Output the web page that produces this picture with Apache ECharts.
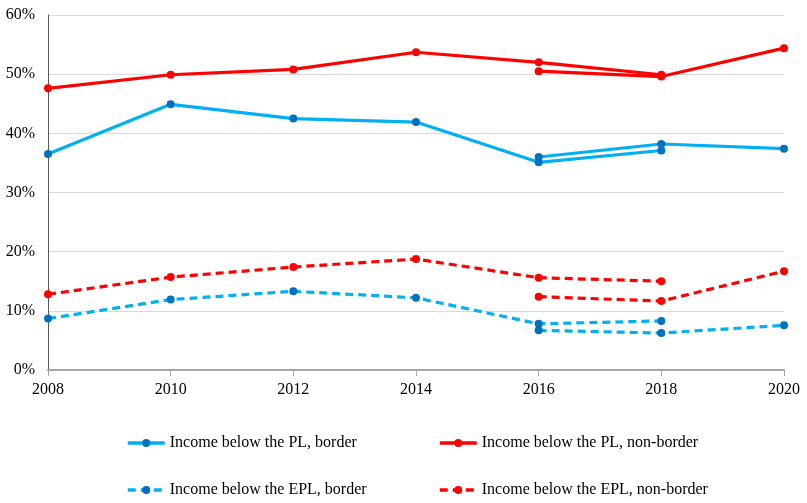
<!DOCTYPE html>
<html>
<head>
<meta charset="utf-8">
<script src="https://cdn.jsdelivr.net/npm/echarts@6/dist/echarts.min.js"></script>
<style>html,body{margin:0;padding:0;background:#fff}#c{width:807px;height:503px}</style>
</head>
<body>
<div id="c"></div>
<script>
var years = ['2008','2010','2012','2014','2016','2018','2020'];
var plBorderOld    = [36.5, 44.9, 42.5, 41.9, 35.1, 37.1, null];
var plBorderNew    = [null, null, null, null, 36.0, 38.2, 37.4];
var plNonBorderOld = [47.6, 49.9, 50.8, 53.7, 52.0, 49.9, null];
var plNonBorderNew = [null, null, null, null, 50.5, 49.6, 54.4];
var eplBorderOld    = [8.7, 11.9, 13.3, 12.2, 7.8, 8.3, null];
var eplBorderNew    = [null, null, null, null, 6.7, 6.25, 7.55];
var eplNonBorderOld = [12.8, 15.7, 17.4, 18.75, 15.6, 15.0, null];
var eplNonBorderNew = [null, null, null, null, 12.4, 11.65, 16.7];
var names = ['Income below the PL, border','Income below the PL, non-border','Income below the EPL, border','Income below the EPL, non-border'];

var BLUE_L = '#00B0F0', BLUE_M = '#0070C0', RED = '#FF0000';
function s(name, data, lc, mc, dashed){
  return {name:name, type:'line', data:data, symbol:'circle', symbolSize:8,
    connectNulls:false,
    lineStyle:{color:lc, width:3.2, type: dashed ? [8,5] : 'solid'},
    itemStyle:{color:mc},
    emphasis:{disabled:true}, z: 3};
}
var font = '"Liberation Serif", "Times New Roman", serif';
function lg(name, left, top){
  return {data:[name], left:left, top:top, itemWidth:37, itemHeight:10, itemGap:0,
    lineStyle:{width:3.5},
    textStyle:{fontFamily:font, fontSize:16, color:'#000', padding:[0,0,0,0]}, selectedMode:false};
}
var chart = echarts.init(document.getElementById('c'));
chart.setOption({
  animation:false,
  grid:{left:48, right:23, top:15, bottom:133},
  legend:[lg(names[0],121,430), lg(names[1],433,430), lg(names[2],121,477), lg(names[3],433,477)],
  xAxis:{type:'category', data:years, boundaryGap:false,
    axisLine:{lineStyle:{color:'#a6a6a6', width:2}},
    axisTick:{show:true, length:6, lineStyle:{color:'#a6a6a6', width:1}},
    axisLabel:{fontFamily:font, fontSize:16, color:'#000', margin:12},
    splitLine:{show:false}},
  yAxis:{type:'value', min:0, max:60, interval:10,
    axisLine:{show:true, lineStyle:{color:'#595959', width:1}},
    axisTick:{show:false},
    axisLabel:{fontFamily:font, fontSize:16, color:'#000', formatter:'{value}%', margin:13},
    splitLine:{lineStyle:{color:'#d9d9d9', width:1}}},
  series:[
    s(names[0], plBorderOld, BLUE_L, BLUE_M, false),
    s(names[0], plBorderNew, BLUE_L, BLUE_M, false),
    s(names[1], plNonBorderOld, RED, RED, false),
    s(names[1], plNonBorderNew, RED, RED, false),
    s(names[2], eplBorderOld, BLUE_L, BLUE_M, true),
    s(names[2], eplBorderNew, BLUE_L, BLUE_M, true),
    s(names[3], eplNonBorderOld, RED, RED, true),
    s(names[3], eplNonBorderNew, RED, RED, true)
  ]
});
</script>
</body>
</html>
